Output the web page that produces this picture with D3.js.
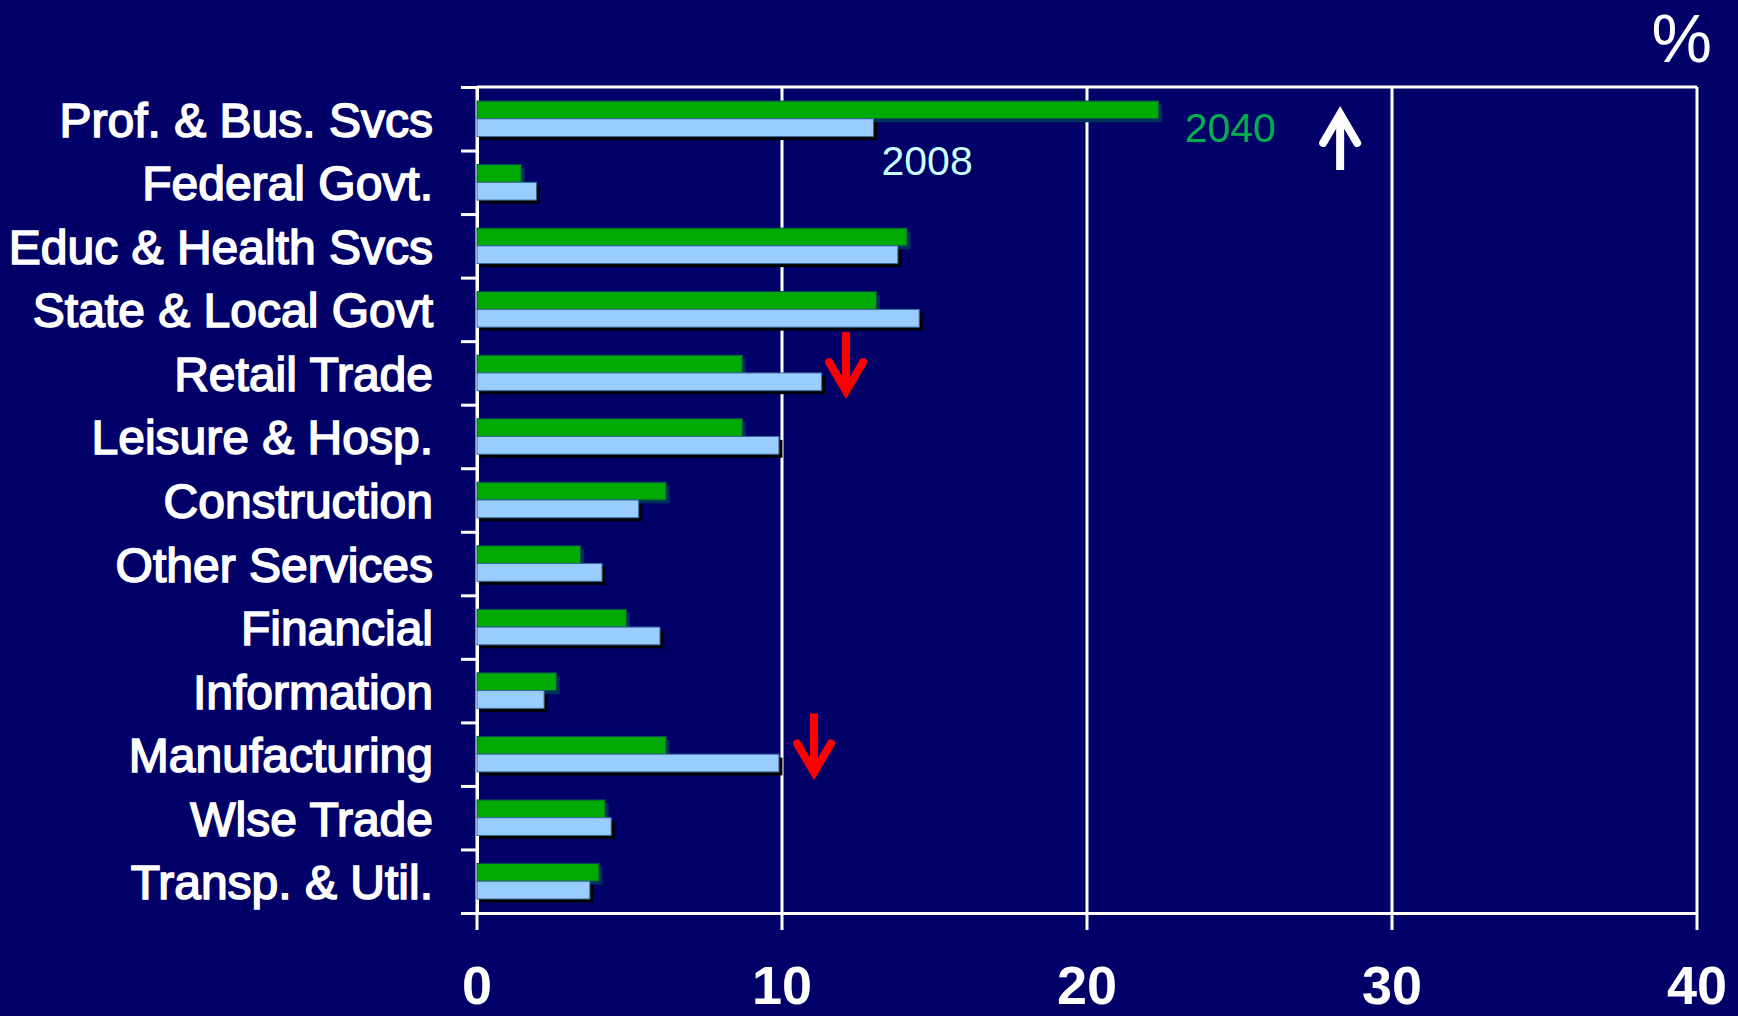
<!DOCTYPE html>
<html>
<head>
<meta charset="utf-8">
<script src="https://cdn.jsdelivr.net/npm/d3@7"></script>
<style>
  html, body { margin: 0; padding: 0; background: #000068; }
  svg { display: block; }
</style>
</head>
<body>
<div id="graph"></div>
<script>
var categories = ["Prof. & Bus. Svcs", "Federal Govt.", "Educ & Health Svcs", "State & Local Govt",
  "Retail Trade", "Leisure & Hosp.", "Construction", "Other Services", "Financial",
  "Information", "Manufacturing", "Wlse Trade", "Transp. & Util."];
var series = ["2040", "2008"];
var values2040 = [22.35, 1.45, 14.1, 13.1, 8.7, 8.7, 6.2, 3.4, 4.9, 2.6, 6.2, 4.2, 4.0];
var values2008 = [13.0, 1.95, 13.8, 14.5, 11.3, 9.9, 5.3, 4.1, 6.0, 2.2, 9.9, 4.4, 3.7];
var xTicks = [0, 10, 20, 30, 40];
// trend arrows: category, x position in %, direction
var arrowCats = ["Prof. & Bus. Svcs", "Retail Trade", "Manufacturing"];
var arrowPos = [28.3, 12.1, 11.05];
var arrowDir = ["up", "down", "down"];

var width = 1738, height = 1016;
var margin = { top: 87, left: 477, right: 41, bottom: 103 };
var chartWidth = width - margin.left - margin.right;
var chartHeight = height - margin.top - margin.bottom;

var colors = { "2040": "#00aa00", "2008": "#99ccff" };
var font = "'Liberation Sans', Arial, sans-serif";

var data = categories.map(function(c, i) {
  return { cat: c, "2040": values2040[i], "2008": values2008[i] };
});

var svg = d3.select("#graph").append("svg")
  .attr("width", width).attr("height", height);
svg.append("rect").attr("width", width).attr("height", height).attr("fill", "#000068");

var g = svg.append("g").attr("transform", "translate(" + [margin.left, margin.top] + ")");

var x = d3.scaleLinear().domain([0, 40]).range([0, chartWidth]);
var y = d3.scaleBand().domain(categories).range([0, chartHeight]);
var yInner = d3.scaleBand().domain(series).range([14, y.bandwidth() - 14]);
var yEdge = d3.scaleLinear().domain([0, categories.length]).range([0, chartHeight]);

// gridlines (vertical) incl. ticks below the axis
g.append("g").selectAll("line")
  .data(xTicks)
  .enter().append("line")
  .attr("x1", function(d) { return x(d); })
  .attr("x2", function(d) { return x(d); })
  .attr("y1", 0)
  .attr("y2", chartHeight + 17)
  .attr("stroke", "#fff")
  .attr("stroke-width", 3);

// top border
g.append("line")
  .attr("x1", x(0)).attr("x2", x(40))
  .attr("y1", 0).attr("y2", 0)
  .attr("stroke", "#fff").attr("stroke-width", 3);

// bottom axis line
var xAxis = d3.axisBottom(x).tickValues(xTicks).tickSize(0).tickFormat("");
g.append("g")
  .attr("class", "axis x")
  .attr("transform", "translate(0," + chartHeight + ")")
  .call(xAxis)
  .call(function(a) {
    a.select(".domain").attr("stroke", "#fff").attr("stroke-width", 3);
  });

// category boundary ticks on the left
var yAxis = d3.axisLeft(yEdge).tickValues(d3.range(categories.length + 1))
  .tickSize(16).tickFormat("");
g.append("g")
  .attr("class", "axis y")
  .call(yAxis)
  .call(function(a) {
    a.selectAll("line").attr("stroke", "#fff").attr("stroke-width", 3);
    a.select(".domain").attr("stroke", "#fff").attr("stroke-width", 3);
  });

// x tick labels
g.append("g").selectAll("text")
  .data(xTicks)
  .enter().append("text")
  .attr("x", function(d) { return x(d); })
  .attr("y", chartHeight + 91)
  .attr("text-anchor", "middle")
  .attr("font-family", font)
  .attr("font-weight", "bold")
  .attr("font-size", 54)
  .attr("fill", "#fff")
  .text(function(d) { return d; });

// category labels
g.append("g").selectAll("text")
  .data(categories)
  .enter().append("text")
  .attr("x", -44)
  .attr("y", function(d) { return y(d) + y.bandwidth() / 2 + 18; })
  .attr("text-anchor", "end")
  .attr("font-family", font)
  .attr("font-size", 48)
  .attr("fill", "#fff")
  .attr("stroke", "#fff")
  .attr("stroke-width", 1.6)
  .text(function(d) { return d; });

// bars
var rows = g.append("g").attr("class", "bars").selectAll("g")
  .data(data)
  .enter().append("g")
  .attr("transform", function(d) { return "translate(0," + y(d.cat) + ")"; });

series.forEach(function(s) {
  rows.append("rect")
    .attr("x", x(0) + 3.5)
    .attr("y", yInner(s) + 3.5)
    .attr("width", function(d) { return x(d[s]) - x(0); })
    .attr("height", yInner.bandwidth())
    .attr("fill", s == "2040" ? "#00305c" : "#000000");
});
series.forEach(function(s) {
  rows.append("rect")
    .attr("x", x(0))
    .attr("y", yInner(s))
    .attr("width", function(d) { return x(d[s]) - x(0); })
    .attr("height", yInner.bandwidth())
    .attr("fill", colors[s])
    .attr("stroke", s == "2040" ? "#0b4a55" : "#3b6a9a")
    .attr("stroke-width", 1);
});

// series labels next to the first row
var first = data[0];
g.append("text")
  .attr("x", x(first["2040"]) + 26)
  .attr("y", y(first.cat) + 55)
  .attr("font-family", font)
  .attr("font-size", 41)
  .attr("fill", "#00b050")
  .text("2040");
g.append("text")
  .attr("x", x(first["2008"]) + 8)
  .attr("y", y(first.cat) + 88)
  .attr("font-family", font)
  .attr("font-size", 41)
  .attr("fill", "#ccffff")
  .text("2008");

// trend arrows
arrowCats.forEach(function(c, i) {
  var ax = x(arrowPos[i]);
  var up = arrowDir[i] == "up";
  var col = up ? "#ffffff" : "#ff0000";
  var y0 = up ? y(c) + 83 : y(c) - 9;
  var y1 = up ? y(c) + 24 : y(c) + 53;
  var dy = up ? 32 : -32;
  var ag = g.append("g").attr("class", "arrow");
  ag.append("line")
    .attr("x1", ax).attr("x2", ax)
    .attr("y1", y0).attr("y2", y1 + (up ? 6 : -6))
    .attr("stroke", col).attr("stroke-width", 8);
  ag.append("path")
    .attr("d", "M" + (ax - 17) + "," + (y1 + dy) + "L" + ax + "," + (y1 + (up ? 3 : -3)) + "L" + (ax + 17) + "," + (y1 + dy))
    .attr("fill", "none")
    .attr("stroke", col)
    .attr("stroke-width", 8)
    .attr("stroke-linecap", "round")
    .attr("stroke-linejoin", "miter");
});

// unit label
svg.append("text")
  .attr("x", 1712)
  .attr("y", 62)
  .attr("text-anchor", "end")
  .attr("font-family", font)
  .attr("font-size", 68)
  .attr("fill", "#fff")
  .text("%");
</script>
</body>
</html>
